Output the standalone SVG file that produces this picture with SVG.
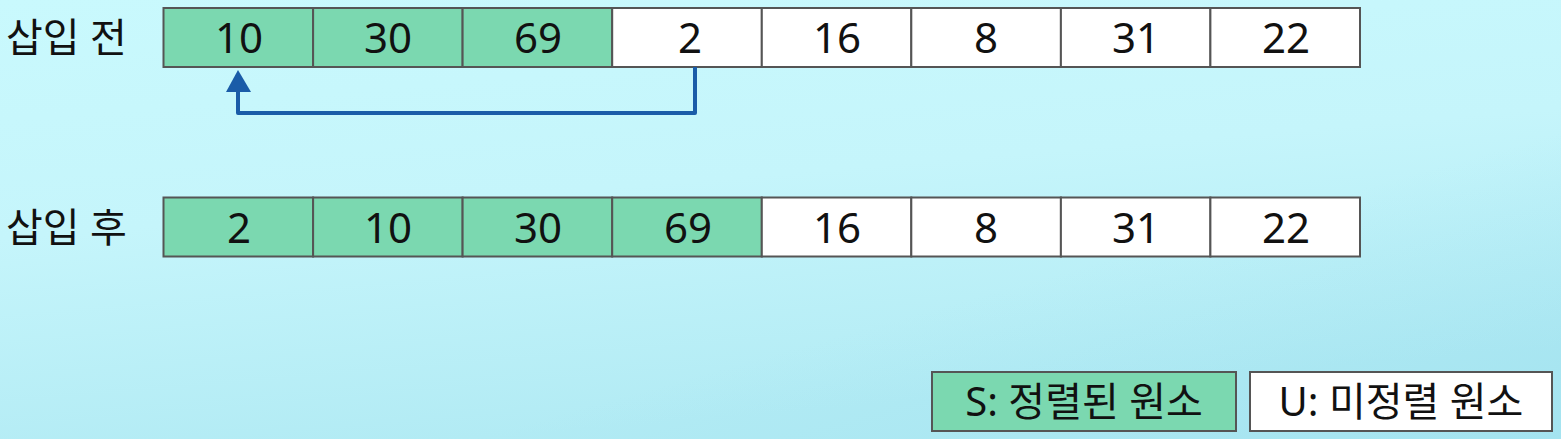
<svg xmlns="http://www.w3.org/2000/svg" width="1561" height="439" viewBox="0 0 1561 439">
<defs>
<linearGradient id="bg" x1="0" y1="0" x2="0.3" y2="1">
<stop offset="0" stop-color="#c9f9fd"/>
<stop offset="0.5" stop-color="#c5f5fb"/>
<stop offset="1" stop-color="#b2ebf4"/>
</linearGradient>
<linearGradient id="bg2" x1="0" y1="0" x2="1" y2="1">
<stop offset="0" stop-color="#ffffff" stop-opacity="0"/>
<stop offset="0.65" stop-color="#8fd8ea" stop-opacity="0"/>
<stop offset="1" stop-color="#8fd8ea" stop-opacity="0.4"/>
</linearGradient>
</defs>
<style>
.cell{stroke:#555;stroke-width:2;}
.s{fill:#7bd8b0;}
.u{fill:#ffffff;}
.num{font-family:"Noto Sans","Noto Sans CJK KR",sans-serif;font-size:42px;fill:#111;text-anchor:middle;}
.lbl{font-family:"Noto Sans","Noto Sans CJK KR",sans-serif;font-size:40px;fill:#111;}
.leg{font-family:"Noto Sans","Noto Sans CJK KR",sans-serif;font-size:40px;fill:#111;text-anchor:middle;}
.conn{fill:none;stroke:#1a5ca8;stroke-width:4;stroke-linejoin:round;}
</style>
<rect width="1561" height="439" fill="url(#bg)"/>
<rect width="1561" height="439" fill="url(#bg2)"/>

<g id="label-before"><text class="lbl" x="6" y="52">삽입 전</text></g>
<g id="label-after"><text class="lbl" x="6" y="242">삽입 후</text></g>

<g id="row-before">
<rect class="cell s" x="163.5" y="8" width="149.6" height="59"/>
<rect class="cell s" x="313.1" y="8" width="149.5" height="59"/>
<rect class="cell s" x="462.6" y="8" width="149.6" height="59"/>
<rect class="cell u" x="612.2" y="8" width="149.6" height="59"/>
<rect class="cell u" x="761.8" y="8" width="149.5" height="59"/>
<rect class="cell u" x="911.3" y="8" width="149.6" height="59"/>
<rect class="cell u" x="1060.9" y="8" width="149.5" height="59"/>
<rect class="cell u" x="1210.4" y="8" width="149.6" height="59"/>
<text class="num" x="239" y="53">10</text>
<text class="num" x="388" y="53">30</text>
<text class="num" x="538" y="53">69</text>
<text class="num" x="690" y="53">2</text>
<text class="num" x="837" y="53">16</text>
<text class="num" x="986" y="53">8</text>
<text class="num" x="1136" y="53">31</text>
<text class="num" x="1286" y="53">22</text>
</g>

<g id="row-after">
<rect class="cell s" x="163.5" y="197.5" width="149.6" height="59"/>
<rect class="cell s" x="313.1" y="197.5" width="149.5" height="59"/>
<rect class="cell s" x="462.6" y="197.5" width="149.6" height="59"/>
<rect class="cell s" x="612.2" y="197.5" width="149.6" height="59"/>
<rect class="cell u" x="761.8" y="197.5" width="149.5" height="59"/>
<rect class="cell u" x="911.3" y="197.5" width="149.6" height="59"/>
<rect class="cell u" x="1060.9" y="197.5" width="149.5" height="59"/>
<rect class="cell u" x="1210.4" y="197.5" width="149.6" height="59"/>
<text class="num" x="239" y="243">2</text>
<text class="num" x="388" y="243">10</text>
<text class="num" x="538" y="243">30</text>
<text class="num" x="688" y="243">69</text>
<text class="num" x="837" y="243">16</text>
<text class="num" x="986" y="243">8</text>
<text class="num" x="1136" y="243">31</text>
<text class="num" x="1286" y="243">22</text>
</g>

<g id="connectors">
<path class="conn" d="M695,67 L695,113 L238,113 L238,92"/>
<path d="M238,70 L226,92 L251,92 Z" fill="#1a5ca8"/>
</g>

<g id="legend-sorted">
<rect class="cell s" x="932" y="372" width="304" height="59"/>
<text class="leg" x="1084" y="416">S: 정렬된 원소</text>
</g>
<g id="legend-unsorted">
<rect class="cell u" x="1250" y="372" width="302" height="59"/>
<text class="leg" x="1401" y="416">U: 미정렬 원소</text>
</g>
</svg>
